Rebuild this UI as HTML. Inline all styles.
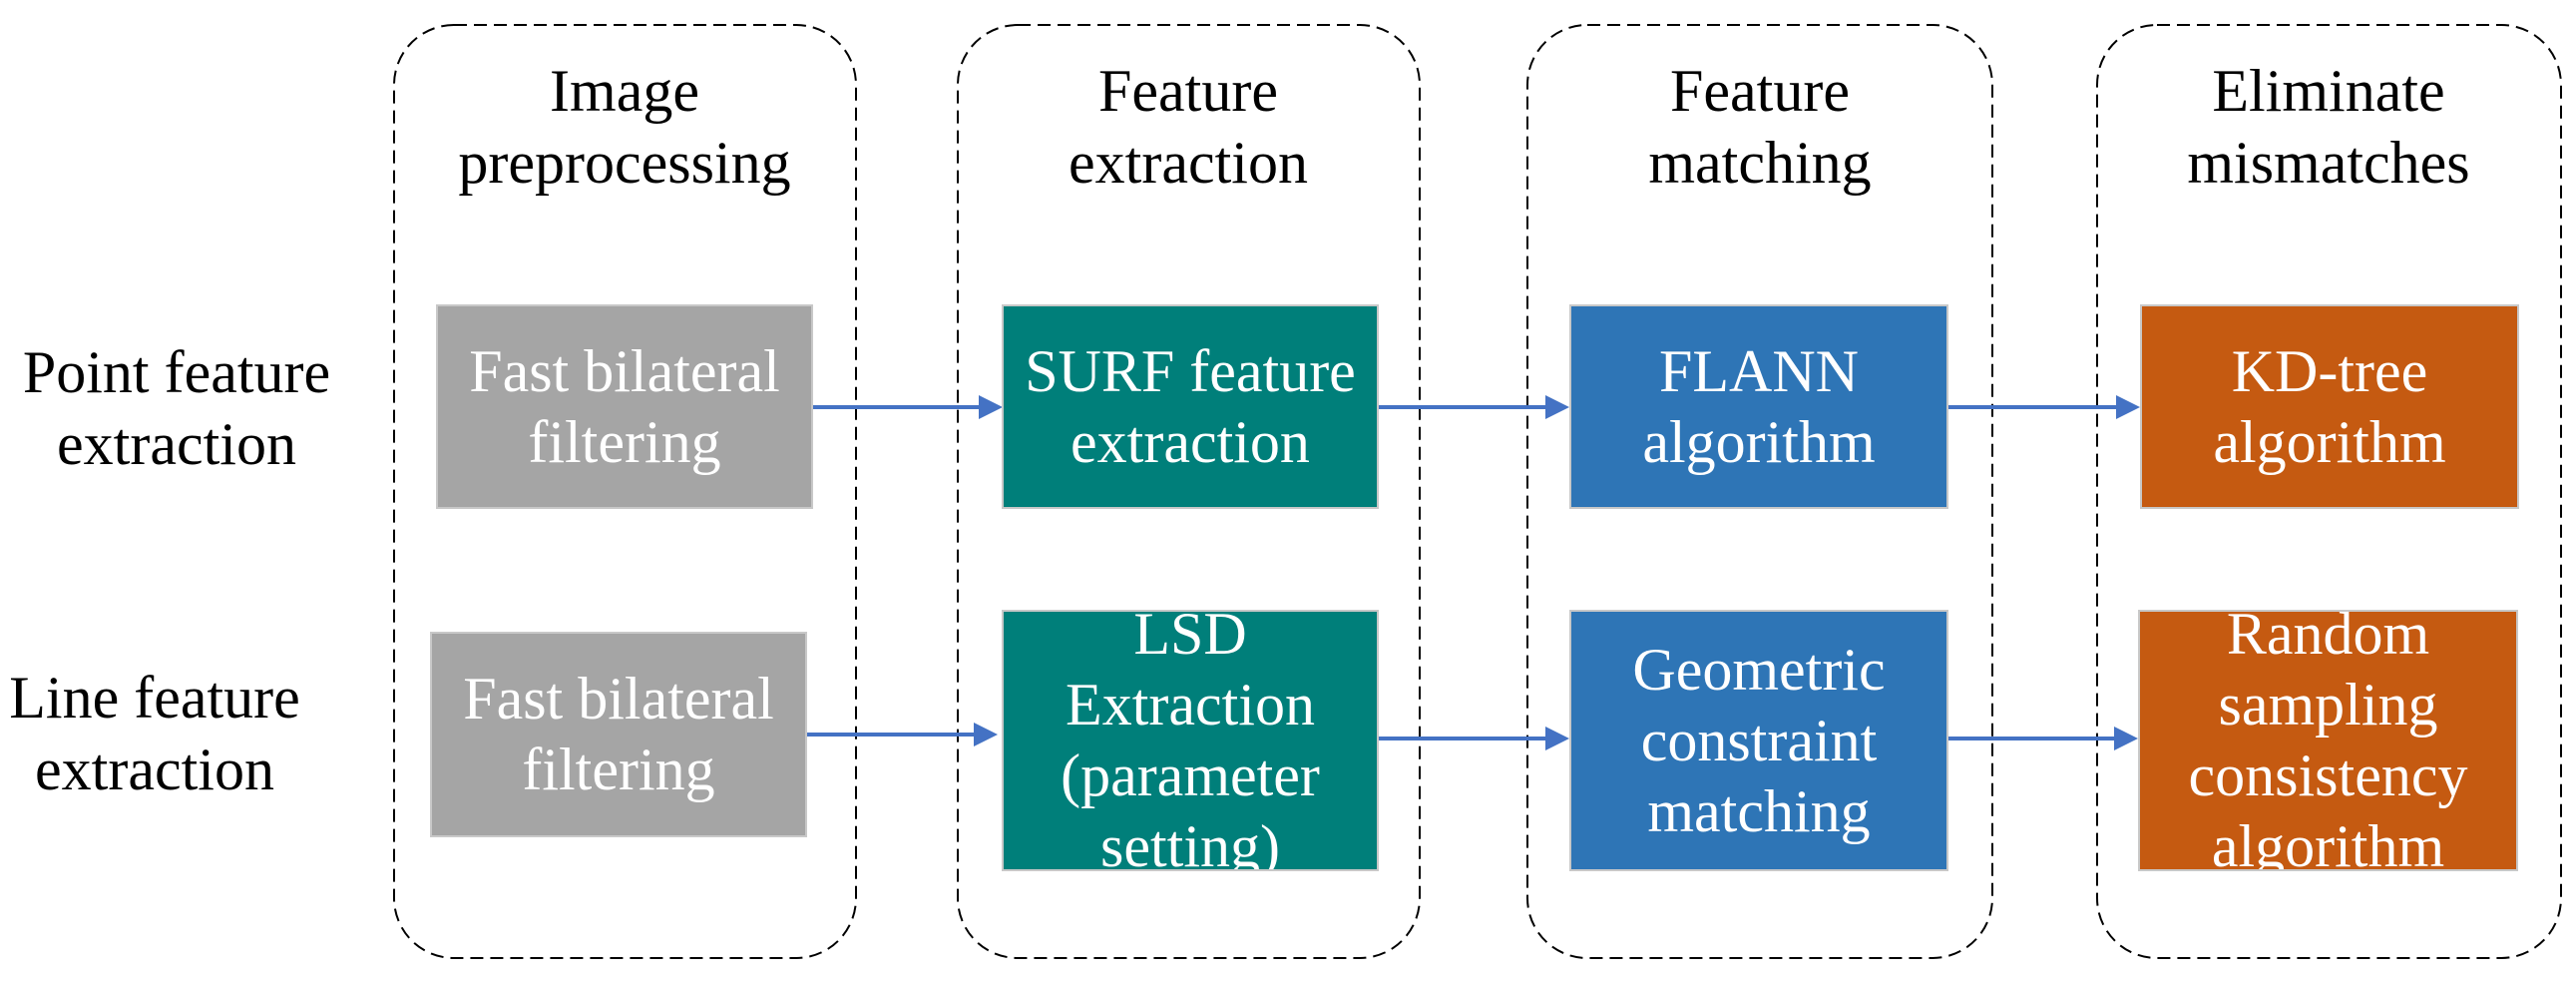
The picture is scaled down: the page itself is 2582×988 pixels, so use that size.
<!DOCTYPE html>
<html><head><meta charset="utf-8"><style>
html,body{margin:0;padding:0;background:#fff;}
#c{position:relative;width:2582px;height:988px;overflow:hidden;font-family:"Liberation Serif",serif;}
.t{position:absolute;text-align:center;font-size:60px;line-height:72px;color:#000;white-space:nowrap;transform:translateX(-50%);}
.b{position:absolute;box-sizing:border-box;border:2px solid #c8c8c8;color:#fff;font-size:60px;line-height:71px;display:flex;align-items:center;justify-content:center;text-align:center;white-space:nowrap;}
.g{background:#a5a5a5}.tl{background:#007f7a}.bl{background:#2e75b6}.o{background:#c55a11}
svg{position:absolute;left:0;top:0}
</style></head><body><div id="c">
<svg width="2582" height="988">
<g fill="none" stroke="#000" stroke-width="2" stroke-dasharray="13 7">
<rect x="395" y="25" width="463" height="935" rx="60"/>
<rect x="960" y="25" width="463" height="935" rx="60"/>
<rect x="1531" y="25" width="466" height="935" rx="60"/>
<rect x="2102" y="25" width="465" height="935" rx="60"/>
</g>
<g stroke="#4472c4" stroke-width="4">
<line x1="815" y1="408" x2="985" y2="408"/>
<line x1="809" y1="736" x2="980" y2="736"/>
<line x1="1382" y1="408" x2="1555" y2="408"/>
<line x1="1382" y1="740" x2="1555" y2="740"/>
<line x1="1953" y1="408" x2="2127" y2="408"/>
<line x1="1953" y1="740" x2="2125" y2="740"/>
</g>
<g fill="#4472c4">
<polygon points="981,396 1005,408 981,420"/>
<polygon points="976,724 1000,736 976,748"/>
<polygon points="1549,396 1573,408 1549,420"/>
<polygon points="1549,728 1573,740 1549,752"/>
<polygon points="2121,396 2145,408 2121,420"/>
<polygon points="2119,728 2143,740 2119,752"/>
</g>
</svg>
<div class="t" style="left:626px;top:55px">Image<br>preprocessing</div>
<div class="t" style="left:1191px;top:55px">Feature<br>extraction</div>
<div class="t" style="left:1764px;top:55px">Feature<br>matching</div>
<div class="t" style="left:2334px;top:55px">Eliminate<br>mismatches</div>
<div class="t" style="left:177px;top:337px">Point feature<br>extraction</div>
<div class="t" style="left:155px;top:663px">Line feature<br>extraction</div>
<div class="b g" style="left:437px;top:305px;width:378px;height:205px">Fast bilateral<br>filtering</div>
<div class="b g" style="left:431px;top:633px;width:378px;height:206px">Fast bilateral<br>filtering</div>
<div class="b tl" style="left:1004px;top:305px;width:378px;height:205px">SURF feature<br>extraction</div>
<div class="b tl" style="left:1004px;top:611px;width:378px;height:262px;overflow:hidden">LSD<br>Extraction<br>(parameter<br>setting)</div>
<div class="b bl" style="left:1573px;top:305px;width:380px;height:205px">FLANN<br>algorithm</div>
<div class="b bl" style="left:1573px;top:611px;width:380px;height:262px">Geometric<br>constraint<br>matching</div>
<div class="b o" style="left:2145px;top:305px;width:380px;height:205px">KD-tree<br>algorithm</div>
<div class="b o" style="left:2143px;top:611px;width:381px;height:262px;overflow:hidden">Random<br>sampling<br>consistency<br>algorithm</div>
</div></body></html>
